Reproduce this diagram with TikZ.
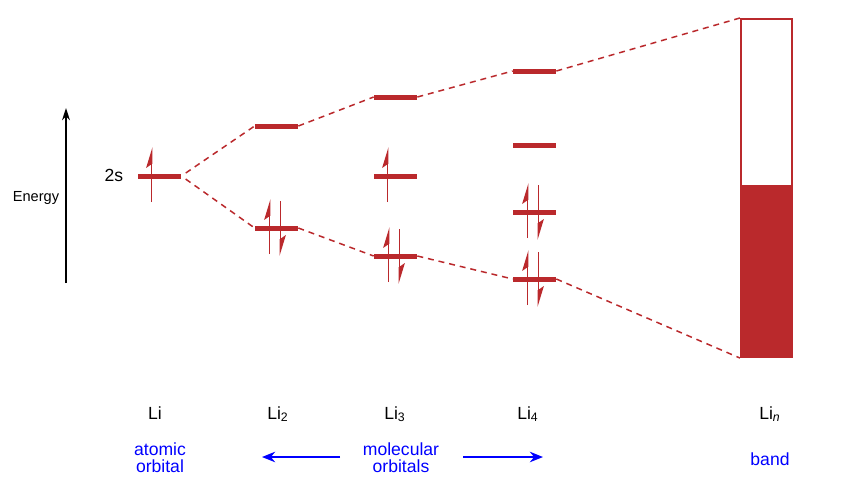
\documentclass[tikz,border=0pt]{standalone}
\usepackage{fontspec}
\setmainfont{Liberation Sans}
\usepackage{tikz}
\usetikzlibrary{positioning}
\usetikzlibrary{arrows.meta}
\definecolor{mored}{RGB}{186,41,44}
\definecolor{moblue}{RGB}{0,0,255}

\begin{document}
\begin{tikzpicture}[x=0.02cm,y=-0.02cm,
    level/.style={fill=mored,inner sep=0pt,minimum width=0.86cm,minimum height=0.1cm},
    corr/.style={mored,line width=0.85pt,dash pattern=on 3.4pt off 2.8pt},
    elec/.style={mored,line width=1.1pt,-{Stealth[left,length=10pt,width=6pt,inset=2pt]}},
    lbl/.style={font=\fontsize{10}{12}\selectfont,anchor=base},
    note/.style={moblue,font=\fontsize{10}{9.8}\selectfont,align=center},
    blarrow/.style={moblue,line width=0.8pt,-{Stealth[length=7.5pt,width=6pt]}}]
  \useasboundingbox (0,0) rectangle (866,495);

  % Energy axis
  \coordinate (ebot) at (66,283);
  \coordinate (etop) at (66,108);
  \draw[line width=0.8pt,-{Stealth[length=7pt,width=4.5pt]}] (ebot) -- (etop);
  \node[font=\fontsize{8.3}{10}\selectfont] (energy) at (36,198) {Energy};

  % Levels
  \node[level] (li) at (159.5,176) {};
  \node[level] (d1) at (276.5,126) {};
  \node[level] (d2) at (276.5,228) {};
  \node[level] (t1) at (395.5,97) {};
  \node[level] (t2) at (395.5,176) {};
  \node[level] (t3) at (395.5,256) {};
  \node[level] (q1) at (534.5,71) {};
  \node[level] (q2) at (534.5,145) {};
  \node[level] (q3) at (534.5,212) {};
  \node[level] (q4) at (534.5,279) {};
  \node[draw=mored,line width=1.2pt,inner sep=0pt,minimum width=1.02cm,
        minimum height=6.76cm] (band) at (766.5,188) {};
  \fill[mored] (band.south west) rectangle ([shift={(0,-3)}]band.east);
  \node[font=\fontsize{10}{12}\selectfont] (twos) at (114,175) {2s};

  % Electrons
  \foreach \n in {li,t2}
    \draw[elec] ([shift={(-8,26)}]\n.center) -- ([shift={(-8,-29)}]\n.center);
  \foreach \n in {d2,t3,q3,q4} {
    \draw[elec] ([shift={(-7,26)}]\n.center) -- ([shift={(-7,-29)}]\n.center);
    \draw[elec] ([shift={(4,-27)}]\n.center) -- ([shift={(4,28)}]\n.center);
  }

  % Correlation lines
  \draw[corr,shorten <=3pt] (li.east) -- (d1.west);
  \draw[corr,shorten <=3pt] (li.east) -- (d2.west);
  \draw[corr] (d1.east) -- (t1.west);
  \draw[corr] (d2.east) -- (t3.west);
  \draw[corr] (t1.east) -- (q1.west);
  \draw[corr] (t3.east) -- (q4.west);
  \draw[corr] (q1.east) -- (band.north west);
  \draw[corr] (q4.east) -- (band.south west);

  % Labels
  \node[lbl] (lione) at (155,419) {Li};
  \node[lbl] (litwo) at (278,419) {Li\textsubscript{2}};
  \node[lbl] (lithree) at (395,419) {Li\textsubscript{3}};
  \node[lbl] (lifour) at (528,419) {Li\textsubscript{4}};
  \node[lbl] (lin) at (770,419) {Li\textsubscript{\itshape n}};

  \node[note] (atomic) at (160,458) {atomic\\orbital};
  \node[note] (molec) at (401,458) {molecular\\orbitals};
  \node[note] (bandlbl) at (770,459) {band};
  \coordinate (molL) at (340,457);
  \coordinate (molLend) at (262,457);
  \coordinate (molR) at (463,457);
  \coordinate (molRend) at (543,457);
  \draw[blarrow] (molL) -- (molLend);
  \draw[blarrow] (molR) -- (molRend);
\end{tikzpicture}
\end{document}
